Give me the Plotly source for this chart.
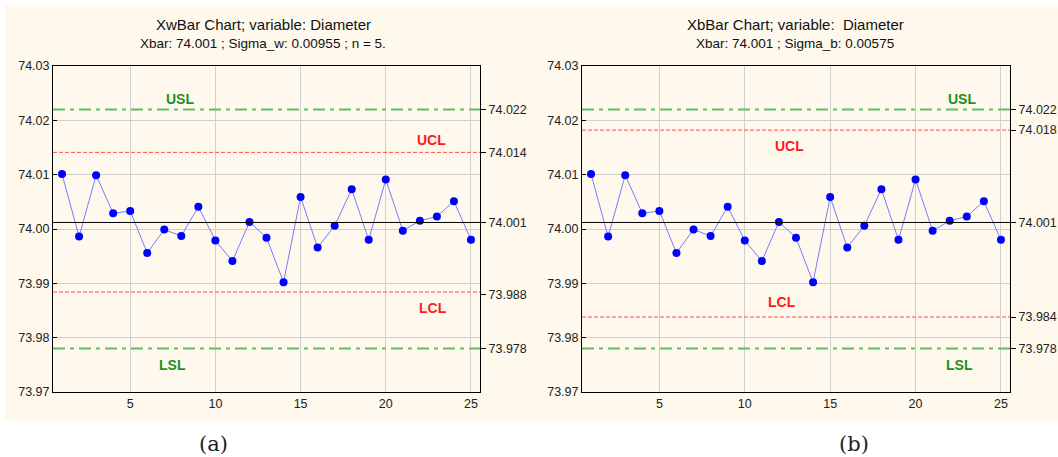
import plotly.graph_objects as go

# ---------------- data ----------------
samples = list(range(1, 26))
sample_means = [74.0101, 73.9986, 74.0099, 74.0029, 74.0033, 73.9956, 73.9999, 73.9987,
                74.0041, 73.9979, 73.9941, 74.0013, 73.9984, 73.9902, 74.0059, 73.9966,
                74.0006, 74.0073, 73.9980, 74.0091, 73.9997, 74.0015, 74.0023, 74.0051,
                73.9980]
center = 74.0012
usl = 74.022
lsl = 73.978
ucl_a, lcl_a = 74.0141, 73.9884
ucl_b, lcl_b = 74.0182, 73.9838
right_ticks_a = [74.022, 74.014, 74.0012, 73.988, 73.978]
right_text_a = ["74.022", "74.014", "74.001", "73.988", "73.978"]
right_ticks_b = [74.022, 74.0182, 74.0012, 73.9838, 73.978]
right_text_b = ["74.022", "74.018", "74.001", "73.984", "73.978"]
titles = ["XwBar Chart; variable: Diameter", "XbBar Chart; variable:  Diameter"]
subtitles = ["Xbar: 74.001 ; Sigma_w: 0.00955 ; n = 5.", "Xbar: 74.001 ; Sigma_b: 0.00575"]
captions = ["(a)", "(b)"]
# label positions (x in sample units, y in data units)
labels_a = [("USL", 7.9, 74.0239, "green"), ("UCL", 22.7, 74.0163, "red"),
            ("LCL", 22.8, 73.9855, "red"), ("LSL", 7.5, 73.9749, "green")]
labels_b = [("USL", 22.7, 74.0239, "green"), ("UCL", 12.6, 74.0153, "red"),
            ("LCL", 12.2, 73.9866, "red"), ("LSL", 22.6, 73.9749, "green")]

W, H = 1058, 457
FONT = "Liberation Sans, Arial, sans-serif"
GREEN = "#1f8f1f"
RED = "#ff1a1a"
LINEGREEN = "#66bb66"
LINERED = "#ff4d4d"
colmap = {"green": GREEN, "red": RED}

fig = go.Figure()

panels = [
    dict(x="x", y="y", yr="y3", ucl=ucl_a, lcl=lcl_a, rt=right_ticks_a, rtt=right_text_a,
         labels=labels_a, dom=[53 / W, 480 / W]),
    dict(x="x2", y="y2", yr="y4", ucl=ucl_b, lcl=lcl_b, rt=right_ticks_b, rtt=right_text_b,
         labels=labels_b, dom=[582 / W, 1010 / W]),
]

ydom = [1 - 392 / H, 1 - 66 / H]
yrange = [73.97, 74.03]
xrange = [0.47, 25.53]

shapes = [dict(type="rect", xref="paper", yref="paper", x0=5 / W, x1=1.0,
               y0=1 - 421 / H, y1=1 - 5 / H, fillcolor="#fef9ec",
               line=dict(width=0), layer="below")]
annotations = []

for i, p in enumerate(panels):
    xa, ya, yr = p["x"], p["y"], p["yr"]
    # invisible helper trace so the right axis is created
    fig.add_trace(go.Scatter(x=samples, y=sample_means, xaxis=xa, yaxis=yr, mode="markers",
                             marker=dict(opacity=0), hoverinfo="skip", showlegend=False))
    # limit lines
    for val, col, dash, wdt in [(usl, LINEGREEN, "12px,5px,4px,5px", 2),
                                (lsl, LINEGREEN, "12px,5px,4px,5px", 2),
                                (p["ucl"], LINERED, "4px,2px", 1),
                                (p["lcl"], LINERED, "4px,2px", 1),
                                (center, "black", "solid", 1)]:
        shapes.append(dict(type="line", xref=f"{xa} domain", yref=ya, x0=0, x1=1,
                           y0=val, y1=val, line=dict(color=col, width=wdt, dash=dash)))
    # data
    fig.add_trace(go.Scatter(x=samples, y=sample_means, xaxis=xa, yaxis=ya,
                             mode="lines+markers",
                             line=dict(color="#7b7bff", width=1),
                             marker=dict(color="#0000ff", size=8),
                             showlegend=False))
    for txt, lx, ly, c in p["labels"]:
        annotations.append(dict(text=f"<b>{txt}</b>", x=lx, y=ly, xref=xa, yref=ya,
                                xanchor="center", yanchor="middle",
                                showarrow=False, font=dict(family=FONT, size=14, color=colmap[c])))
    cx = [263 / W, 795 / W][i]
    annotations.append(dict(text=titles[i], x=cx, y=1 - 25 / H, xref="paper", yref="paper",
                            xanchor="center", yanchor="middle",
                            showarrow=False, font=dict(family=FONT, size=15, color="#111")))
    annotations.append(dict(text=subtitles[i], x=cx, y=1 - 43 / H, xref="paper", yref="paper",
                            xanchor="center", yanchor="middle",
                            showarrow=False, font=dict(family=FONT, size=13.5, color="#111")))
    capx = [213 / W, 854 / W][i]
    annotations.append(dict(text=captions[i], x=capx, y=1 - 444 / H, xref="paper", yref="paper",
                            xanchor="center", yanchor="middle",
                            showarrow=False,
                            font=dict(family="DejaVu Serif, Liberation Serif, serif", size=21, color="#222")))

axis_common = dict(showline=True, linecolor="black", linewidth=1, mirror=True,
                   showgrid=True, gridcolor="#cfcfcf", gridwidth=1, zeroline=False,
                   tickfont=dict(family=FONT, size=12.5, color="#222"))

layout = dict(width=W, height=H, margin=dict(l=0, r=0, t=0, b=0, autoexpand=False),
              paper_bgcolor="white", plot_bgcolor="white",
              shapes=shapes, annotations=annotations, showlegend=False)

for i, p in enumerate(panels):
    n = "" if i == 0 else "2"
    xa, ya, yr = p["x"], p["y"], p["yr"]
    layout[f"xaxis{n}"] = dict(axis_common, domain=p["dom"], range=xrange, anchor=ya,
                               tickvals=[5, 10, 15, 20, 25], ticks="", ticklen=0)
    layout[f"yaxis{n}"] = dict(axis_common, domain=ydom, range=yrange, anchor=xa,
                               tickvals=[73.97, 73.98, 73.99, 74.00, 74.01, 74.02, 74.03],
                               ticktext=["73.97", "73.98", "73.99", "74.00", "74.01", "74.02", "74.03"],
                               ticks="inside", ticklen=4, tickcolor="black")
    rn = "3" if i == 0 else "4"
    layout[f"yaxis{rn}"] = dict(overlaying=ya, side="right", anchor=xa, range=yrange,
                                domain=ydom, showgrid=False, zeroline=False, showline=False,
                                tickvals=p["rt"], ticktext=p["rtt"], ticks="outside",
                                ticklen=5, tickcolor="black",
                                tickfont=dict(family=FONT, size=12.5, color="#222"))

fig.update_layout(**layout)
fig.write_html("out.html", config={"displayModeBar": False},
               post_script="document.body.style.margin='0';document.body.style.overflow='hidden';")
